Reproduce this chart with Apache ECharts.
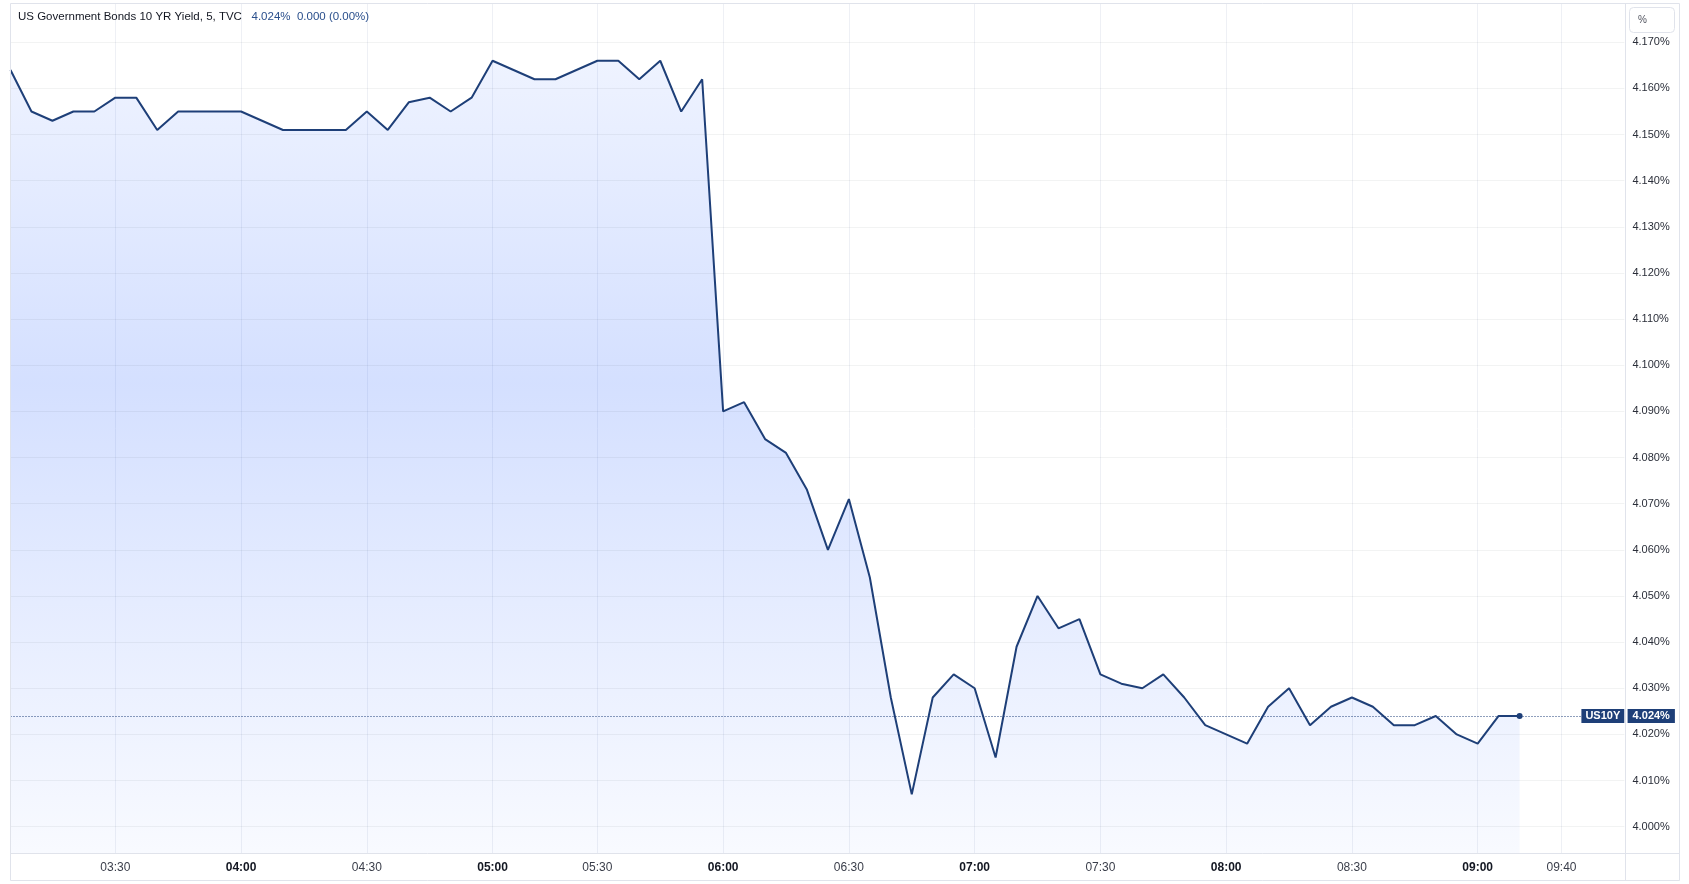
<!DOCTYPE html>
<html>
<head>
<meta charset="utf-8">
<script src="https://cdn.jsdelivr.net/npm/echarts@6/dist/echarts.min.js"></script>
<style>
html,body{margin:0;padding:0;background:#fff;}
#chart{width:1689px;height:884px;}
</style>
</head>
<body>
<div id="chart"></div>
<script>
const categories = [
  "03:05","03:10","03:15","03:20","03:25","03:30","03:35","03:40","03:45","03:50","03:55",
  "04:00","04:05","04:10","04:15","04:20","04:25","04:30","04:35","04:40","04:45","04:50","04:55",
  "05:00","05:05","05:10","05:15","05:20","05:30","05:35","05:40","05:45","05:50","05:55",
  "06:00","06:05","06:10","06:15","06:20","06:25","06:30","06:35","06:40","06:45","06:50","06:55",
  "07:00","07:05","07:10","07:15","07:20","07:25","07:30","07:35","07:40","07:45","07:50","07:55",
  "08:00","08:05","08:10","08:15","08:20","08:25","08:30","08:35","08:40","08:45","08:50","08:55",
  "09:00","09:05","09:10",
  "09:35","09:40","09:45","09:50","09:55"
];
const yields = [
  4.164,4.155,4.153,4.155,4.155,4.158,4.158,4.151,4.155,4.155,4.155,
  4.155,4.153,4.151,4.151,4.151,4.151,4.155,4.151,4.157,4.158,4.155,4.158,
  4.166,4.164,4.162,4.162,4.164,4.166,4.166,4.162,4.166,4.155,4.162,
  4.090,4.092,4.084,4.081,4.073,4.060,4.071,4.054,4.028,4.007,4.028,4.033,
  4.030,4.015,4.039,4.050,4.043,4.045,4.033,4.031,4.030,4.033,4.028,4.022,
  4.020,4.018,4.026,4.030,4.022,4.026,4.028,4.026,4.022,4.022,4.024,4.020,
  4.018,4.024,4.024
];
const xTickLabels = ["03:30","04:00","04:30","05:00","05:30","06:00","06:30","07:00","07:30","08:00","08:30","09:00","09:40"];
const boldTickLabels = ["04:00","05:00","06:00","07:00","08:00","09:00"];
const yTicks = [4.00,4.01,4.02,4.03,4.04,4.05,4.06,4.07,4.08,4.09,4.10,4.11,4.12,4.13,4.14,4.15,4.16,4.17];
const symbolName = "US10Y";
const titleText = "US Government Bonds 10 YR Yield, 5, TVC";

const FONT = "'Liberation Sans', Arial, sans-serif";
const NAVY = "#1e3f78";
const last = yields[yields.length - 1];
const prev = yields[yields.length - 2];
const chg = last - prev;
const chgPct = chg / prev * 100;

const chart = echarts.init(document.getElementById('chart'), null, {renderer: 'canvas'});

const option = {
  animation: false,
  backgroundColor: '#ffffff',
  title: {
    left: 13, top: 6,
    text: '{t|' + titleText + '}   {v|' + last.toFixed(3) + '%}  {v|' + chg.toFixed(3) + ' (' + chgPct.toFixed(2) + '%)}',
    textStyle: {
      fontSize: 11.5, fontFamily: FONT, fontWeight: 'normal', color: '#131722',
      rich: {
        t: {fontSize: 11.5, fontFamily: FONT, color: '#131722'},
        v: {fontSize: 11.5, fontFamily: FONT, color: '#2a4f8c'}
      }
    }
  },
  grid: {left: 10.5, right: 64.6, top: 4, bottom: 31, containLabel: false},
  xAxis: {
    type: 'category',
    data: categories,
    boundaryGap: false,
    axisLine: {show: false},
    axisTick: {show: false},
    axisLabel: {
      interval: (i, v) => xTickLabels.includes(v),
      margin: 9,
      formatter: v => boldTickLabels.includes(v) ? '{b|' + v + '}' : '{r|' + v + '}',
      rich: {
        b: {fontSize: 12, fontFamily: FONT, color: '#131722', fontWeight: 'bold'},
        r: {fontSize: 12, fontFamily: FONT, color: '#3a3e4a'}
      }
    },
    splitLine: {
      show: true,
      interval: (i, v) => xTickLabels.includes(v),
      lineStyle: {color: '#eef0f5', width: 1}
    }
  },
  yAxis: {
    type: 'value',
    position: 'right',
    min: 3.9943,
    max: 4.1783,
    axisLine: {show: false},
    axisTick: {show: false},
    splitLine: {show: false},
    axisLabel: {
      customValues: yTicks,
      margin: 8,
      fontSize: 11,
      fontFamily: FONT,
      color: '#2a2e39',
      formatter: v => v.toFixed(3) + '%'
    }
  },
  series: [{
    type: 'line',
    data: yields,
    symbol: 'circle',
    showSymbol: true,
    showAllSymbol: true,
    symbolSize: (val, params) => params.dataIndex === yields.length - 1 ? 6 : 0,
    itemStyle: {color: NAVY},
    lineStyle: {color: NAVY, width: 2},
    areaStyle: {
      origin: 'start',
      opacity: 1,
      color: new echarts.graphic.LinearGradient(0, 0, 0, 853, [
        {offset: 0.05, color: 'rgba(41,98,255,0.07)'},
        {offset: 0.45, color: 'rgba(41,98,255,0.20)'},
        {offset: 1, color: 'rgba(41,98,255,0.03)'}
      ], true)
    },
    markLine: {
      silent: true,
      precision: 4,
      symbol: ['none', 'none'],
      animation: false,
      data: yTicks.map(v => ({
        yAxis: v,
        lineStyle: {color: 'rgba(42,46,57,0.06)', width: 1, type: 'solid'},
        label: {show: false}
      })).concat([{
        yAxis: last,
        lineStyle: {color: NAVY, width: 1, type: [1, 2]},
        label: {
          show: true,
          position: 'end',
          distance: 0,
          offset: [-43, 0],
          formatter: () => '{a|' + symbolName + '} {b|' + last.toFixed(3) + '%}',
          rich: {
            a: {backgroundColor: NAVY, color: '#fff', fontWeight: 'bold', fontSize: 11, fontFamily: FONT, padding: [2, 4, 1, 4], lineHeight: 12},
            b: {backgroundColor: NAVY, color: '#fff', fontWeight: 'bold', fontSize: 11, fontFamily: FONT, padding: [2, 5, 1, 5], lineHeight: 12}
          }
        }
      }])
    }
  }],
  graphic: [
    {type: 'rect', silent: true, z: 10, shape: {x: 10.5, y: 3.5, width: 1669, height: 877}, style: {fill: 'none', stroke: '#e0e3eb', lineWidth: 1}},
    {type: 'line', silent: true, z: 10, shape: {x1: 1625.5, y1: 3.5, x2: 1625.5, y2: 880.5}, style: {stroke: '#e0e3eb', lineWidth: 1}},
    {type: 'line', silent: true, z: 10, shape: {x1: 10.5, y1: 853.5, x2: 1679.5, y2: 853.5}, style: {stroke: '#e0e3eb', lineWidth: 1}},
    {type: 'rect', silent: true, z: 10, shape: {x: 1629.5, y: 7.5, width: 45, height: 25, r: 4}, style: {fill: '#fff', stroke: '#e0e3eb', lineWidth: 1}},
    {type: 'text', silent: true, z: 11, style: {x: 1638, y: 20, text: '%', fill: '#50535e', font: '10px ' + FONT, verticalAlign: 'middle'}}
  ]
};
chart.setOption(option);
</script>
</body>
</html>
